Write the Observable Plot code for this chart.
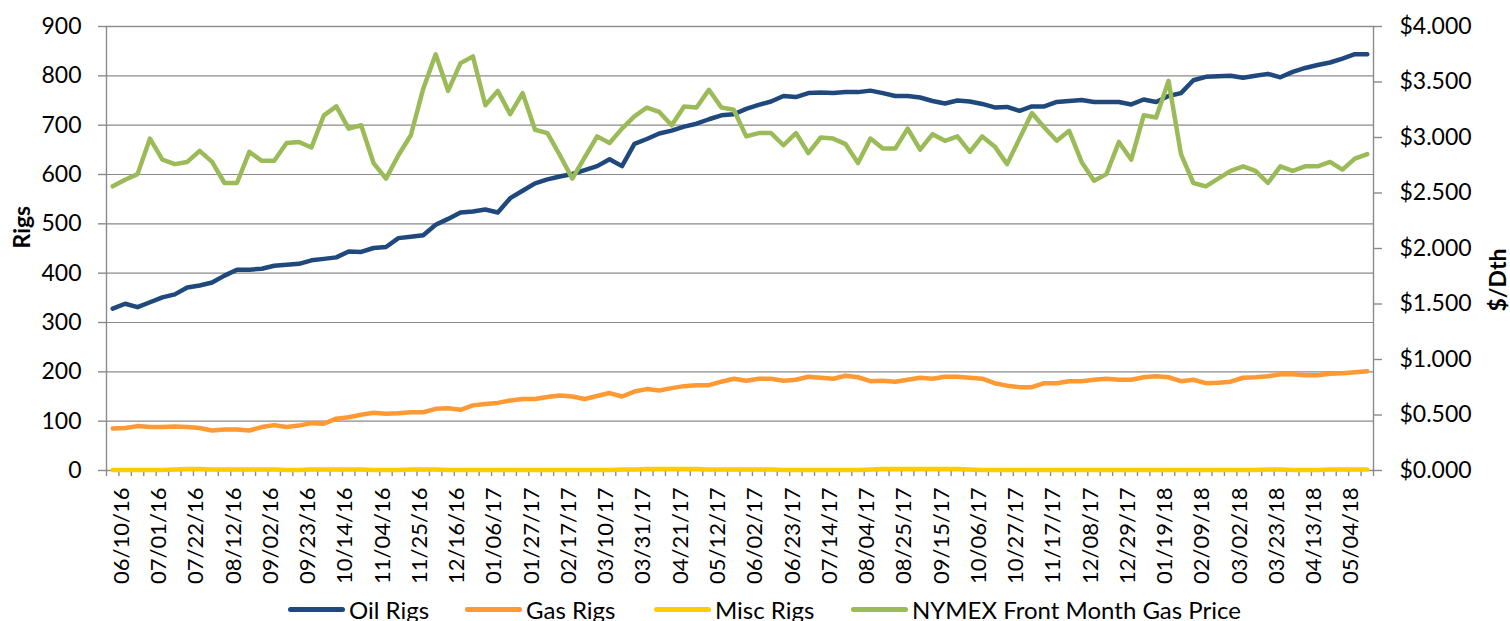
<!DOCTYPE html>
<html>
<head>
<meta charset="utf-8">
<script src="https://cdn.jsdelivr.net/npm/d3@7"></script>
<script src="https://cdn.jsdelivr.net/npm/@observablehq/plot@0.6"></script>
<style>
  html, body { margin: 0; padding: 0; background: #fff; width: 1510px; height: 621px; overflow: hidden; }
  body { font-family: Lato, "Open Sans", sans-serif; color: #000; }
  #legend { position: relative; height: 34px; font-size: 24px; white-space: nowrap; }
  #legend .item { position: absolute; top: 0; height: 34px; display: flex; align-items: center; }
  #legend .sw { width: 57px; height: 5px; border-radius: 3px; margin-right: 4px; }
  #legend .item:nth-child(1) { left: 288px; }
  #legend .item:nth-child(2) { left: 465px; }
  #legend .item:nth-child(3) { left: 654px; }
  #legend .item:nth-child(4) { left: 851px; }
</style>
</head>
<body>
<div id="chart"></div>
<div id="legend"></div>
<script>
// ---- Data (weekly) ----
const weeks = [
  "06/10/16","06/17/16","06/24/16","07/01/16","07/08/16","07/15/16","07/22/16","07/29/16","08/05/16","08/12/16",
  "08/19/16","08/26/16","09/02/16","09/09/16","09/16/16","09/23/16","09/30/16","10/07/16","10/14/16","10/21/16",
  "10/28/16","11/04/16","11/11/16","11/18/16","11/25/16","12/02/16","12/09/16","12/16/16","12/23/16","12/30/16",
  "01/06/17","01/13/17","01/20/17","01/27/17","02/03/17","02/10/17","02/17/17","02/24/17","03/03/17","03/10/17",
  "03/17/17","03/24/17","03/31/17","04/07/17","04/14/17","04/21/17","04/28/17","05/05/17","05/12/17","05/19/17",
  "05/26/17","06/02/17","06/09/17","06/16/17","06/23/17","06/30/17","07/07/17","07/14/17","07/21/17","07/28/17",
  "08/04/17","08/11/17","08/18/17","08/25/17","09/01/17","09/08/17","09/15/17","09/22/17","09/29/17","10/06/17",
  "10/13/17","10/20/17","10/27/17","11/03/17","11/10/17","11/17/17","11/24/17","12/01/17","12/08/17","12/15/17",
  "12/22/17","12/29/17","01/05/18","01/12/18","01/19/18","01/26/18","02/02/18","02/09/18","02/16/18","02/23/18",
  "03/02/18","03/09/18","03/16/18","03/23/18","03/30/18","04/06/18","04/13/18","04/20/18","04/27/18","05/04/18",
  "05/11/18","05/18/18"
];

const oilRigs = [
  328,338,331,341,351,357,371,375,381,395,
  407,407,409,415,417,419,426,429,432,444,
  443,451,453,471,474,477,498,510,523,525,
  529,523,552,567,582,590,596,601,609,617,
  631,617,662,672,683,689,697,703,712,720,
  722,733,741,748,759,757,765,766,765,767,
  767,770,765,759,759,756,749,744,750,748,
  743,736,737,729,738,738,747,749,751,747,
  747,747,742,752,747,759,765,791,798,799,
  800,796,800,804,797,808,816,822,827,835,
  844,844
];

const gasRigs = [
  85,86,90,88,88,89,88,86,81,83,
  83,81,88,92,88,91,96,95,105,108,
  113,117,115,116,118,118,125,126,123,132,
  135,137,142,145,145,149,152,150,145,151,
  157,150,160,165,162,167,171,173,173,180,
  186,182,186,186,182,184,190,188,186,192,
  189,181,182,180,184,188,186,190,190,188,
  186,177,172,169,169,177,177,181,181,184,
  186,184,184,189,191,189,181,184,177,178,
  180,188,189,191,195,195,193,193,196,197,
  199,201
];

const miscRigs = [
  1,1,1,1,1,2,3,3,2,2,
  2,2,2,2,1,1,2,2,2,2,
  2,1,1,1,2,2,2,1,1,1,
  1,1,1,1,1,1,1,1,1,1,
  1,2,2,3,3,3,3,3,2,2,
  2,2,2,2,1,1,1,1,1,1,
  1,2,3,3,3,3,3,3,3,2,
  1,1,1,1,1,1,1,1,1,1,
  1,1,1,1,1,1,1,1,1,1,
  1,1,1,2,2,1,1,1,2,2,
  2,2
];

const gasPrice = [
  2.56,2.62,2.67,2.99,2.80,2.76,2.78,2.88,2.78,2.59,
  2.59,2.87,2.79,2.79,2.95,2.96,2.91,3.20,3.28,3.08,
  3.11,2.77,2.63,2.84,3.02,3.44,3.75,3.42,3.67,3.73,
  3.29,3.42,3.21,3.40,3.07,3.04,2.84,2.63,2.82,3.01,
  2.95,3.08,3.19,3.27,3.23,3.11,3.28,3.27,3.43,3.27,
  3.25,3.01,3.04,3.04,2.93,3.04,2.86,3.00,2.99,2.94,
  2.77,2.99,2.90,2.90,3.08,2.89,3.03,2.97,3.01,2.87,
  3.01,2.92,2.76,2.99,3.22,3.09,2.97,3.06,2.78,2.61,
  2.67,2.96,2.80,3.20,3.18,3.51,2.85,2.59,2.56,2.63,
  2.70,2.74,2.70,2.59,2.74,2.70,2.74,2.74,2.78,2.71,
  2.81,2.85
];

const xTickLabels = [
  "06/10/16","07/01/16","07/22/16","08/12/16","09/02/16","09/23/16","10/14/16","11/04/16","11/25/16","12/16/16",
  "01/06/17","01/27/17","02/17/17","03/10/17","03/31/17","04/21/17","05/12/17","06/02/17","06/23/17","07/14/17",
  "08/04/17","08/25/17","09/15/17","10/06/17","10/27/17","11/17/17","12/08/17","12/29/17","01/19/18","02/09/18",
  "03/02/18","03/23/18","04/13/18","05/04/18"
];
const rigTicks = [0,100,200,300,400,500,600,700,800,900];
const priceTicks = [0,0.5,1,1.5,2,2.5,3,3.5,4];

const seriesNames = ["Oil Rigs","Gas Rigs","Misc Rigs","NYMEX Front Month Gas Price"];
const seriesColors = ["#1F497D","#FF9933","#FFCC00","#9BBB59"];

// ---- Build ----
const rigMax = 900, priceMax = 4;
const k = rigMax / priceMax; // price -> left-axis units
const rows = weeks.map((w, i) => ({i, week: w, oil: oilRigs[i], gas: gasRigs[i], misc: miscRigs[i], price: gasPrice[i]}));
const bounds = weeks.map((_, i) => i - 0.5).concat([weeks.length - 0.5]);
const labelIdx = xTickLabels.map(d => weeks.indexOf(d));

const lineOpts = {strokeWidth: 4.5, strokeLinejoin: "round", strokeLinecap: "round"};
const gridColor = "#8a8a8a";

const chart = Plot.plot({
  width: 1510,
  height: 592,
  marginLeft: 106,
  marginRight: 137,
  marginTop: 26,
  marginBottom: 122,
  style: {fontFamily: "Lato, 'Open Sans', sans-serif", fontSize: "23px", color: "#000", background: "#fff", overflow: "visible"},
  x: {type: "linear", domain: [-0.5, weeks.length - 0.5], axis: null},
  y: {domain: [0, rigMax], axis: null},
  marks: [
    Plot.gridY(rigTicks.filter(t => t > 0), {stroke: gridColor, strokeOpacity: 1, strokeWidth: 1.2}),
    Plot.frame({stroke: gridColor, strokeWidth: 1.4}),
    Plot.axisY(rigTicks, {anchor: "left", tickSize: 8, tickPadding: 17, stroke: gridColor, strokeWidth: 1.4, fill: "#000", fontSize: 23, label: null}),
    Plot.axisY(priceTicks.map(p => p * k), {anchor: "right", tickSize: 8, tickPadding: 18, stroke: gridColor, strokeWidth: 1.4, fill: "#000", fontSize: 23, label: null,
      tickFormat: v => "$" + (v / k).toFixed(3)}),
    Plot.axisX(bounds, {anchor: "bottom", tickSize: 6, stroke: gridColor, strokeWidth: 1.4, tickFormat: () => "", label: null}),
    Plot.text(labelIdx, {x: d => d, text: d => weeks[d], frameAnchor: "bottom", rotate: -90, textAnchor: "end", lineAnchor: "middle", dy: 17, dx: 9, fontSize: 22, fill: "#000"}),
    Plot.text(["Rigs"], {frameAnchor: "left", rotate: -90, dx: -84, fontWeight: "bold", fontSize: 23, fill: "#000"}),
    Plot.text(["$/Dth"], {frameAnchor: "right", rotate: -90, dx: 125, fontWeight: "bold", fontSize: 23, fill: "#000"}),
    Plot.line(rows, {x: "i", y: "oil", stroke: seriesColors[0], ...lineOpts}),
    Plot.line(rows, {x: "i", y: "gas", stroke: seriesColors[1], ...lineOpts}),
    Plot.line(rows, {x: "i", y: "misc", stroke: seriesColors[2], ...lineOpts}),
    Plot.line(rows, {x: "i", y: d => d.price * k, stroke: seriesColors[3], ...lineOpts})
  ]
});
document.getElementById("chart").append(chart);

// ---- Legend ----
const legend = document.getElementById("legend");
seriesNames.forEach((name, j) => {
  const item = document.createElement("div");
  item.className = "item";
  const sw = document.createElement("span");
  sw.className = "sw";
  sw.style.background = seriesColors[j];
  const t = document.createElement("span");
  t.textContent = name;
  item.append(sw, t);
  legend.append(item);
});
</script>
</body>
</html>
